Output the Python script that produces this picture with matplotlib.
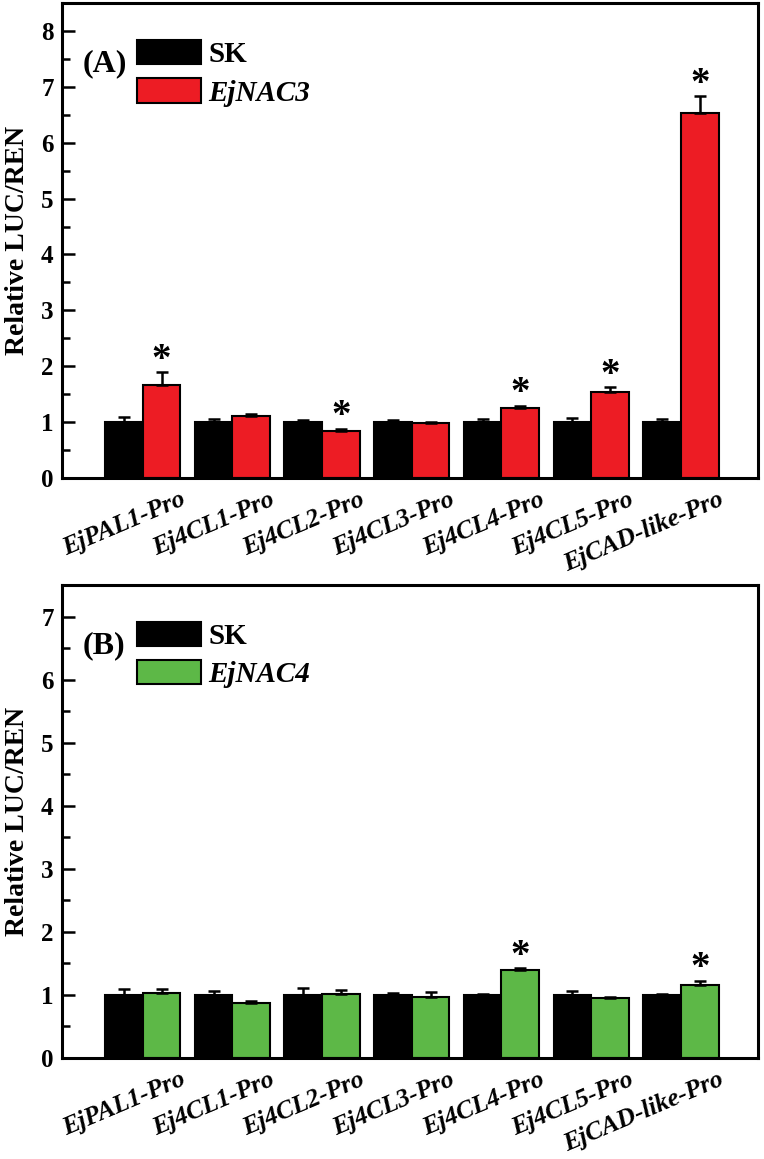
import matplotlib
matplotlib.use("Agg")
import matplotlib.pyplot as plt
import matplotlib.transforms as mtransforms
from matplotlib.patches import Patch
import numpy as np

plt.rcParams['font.family'] = ['Liberation Serif', 'DejaVu Serif']
plt.rcParams['font.weight'] = 'bold'

categories = ["EjPAL1-Pro", "Ej4CL1-Pro", "Ej4CL2-Pro", "Ej4CL3-Pro",
              "Ej4CL4-Pro", "Ej4CL5-Pro", "EjCAD-like-Pro"]

# Panel A
sk_a = [1.0, 1.0, 1.0, 1.0, 1.0, 1.0, 1.0]
sk_a_err = [0.09, 0.06, 0.03, 0.03, 0.05, 0.08, 0.05]
nac3 = [1.66, 1.11, 0.84, 0.98, 1.25, 1.54, 6.54]
nac3_err = [0.23, 0.03, 0.04, 0.02, 0.04, 0.08, 0.29]
sig_a = [True, False, True, False, True, True, True]

# Panel B
sk_b = [1.0, 1.0, 1.0, 1.0, 1.0, 1.0, 1.0]
sk_b_err = [0.09, 0.06, 0.11, 0.03, 0.02, 0.06, 0.02]
nac4 = [1.03, 0.875, 1.015, 0.96, 1.39, 0.95, 1.16]
nac4_err = [0.07, 0.035, 0.07, 0.085, 0.03, 0.02, 0.06]
sig_b = [False, False, False, False, True, False, True]

yticks_a = [0, 1, 2, 3, 4, 5, 6, 7, 8]
yticks_b = [0, 1, 2, 3, 4, 5, 6, 7]

RED = '#ED1C24'
GREEN = '#5DB847'

fig = plt.figure(figsize=(7.64, 11.59), dpi=100)
L, R = 62 / 764, 758 / 764
axA = fig.add_axes([L, 1 - 478 / 1159, R - L, (478 - 3) / 1159])
axB = fig.add_axes([L, 1 - 1058 / 1159, R - L, (1058 - 585) / 1159])

W = 0.42

def panel(ax, sk, sk_err, tr, tr_err, sig, color, trname, tag, ymax, yticks):
    x = np.arange(len(categories))
    ax.bar(x - W / 2, sk, W, color='black', edgecolor='black', linewidth=1.5,
           yerr=[np.zeros(len(sk)), sk_err], capsize=4,
           error_kw=dict(ecolor='black', elinewidth=1.8, capthick=1.8), zorder=2, label='SK')
    ax.bar(x + W / 2, tr, W, color=color, edgecolor='black', linewidth=1.5,
           yerr=[np.zeros(len(tr)), tr_err], capsize=4,
           error_kw=dict(ecolor='black', elinewidth=1.8, capthick=1.8), zorder=2, label=trname)
    for i, s in enumerate(sig):
        if s:
            ax.annotate('*', (x[i] + W / 2, tr[i] + tr_err[i]), xytext=(0, 2),
                        textcoords='offset points', ha='center', va='baseline',
                        fontsize=28, fontweight='bold')
    ax.set_xlim(-0.90, 6.86)
    ax.set_ylim(0, ymax)
    ax.set_yticks(yticks)
    ax.set_yticklabels([str(t) for t in yticks], fontsize=18, fontweight='bold')
    ax.set_yticks(np.arange(0.5, ymax, 1.0), minor=True)
    ax.tick_params(axis='y', which='major', direction='in', length=9, width=1.8, pad=6)
    ax.tick_params(axis='y', which='minor', direction='in', length=6, width=1.8)
    ax.set_xticks(x)
    ax.set_xticklabels(categories, rotation=23, ha='right', va='top',
                       rotation_mode='anchor', fontsize=18.5, fontweight='bold', style='italic')
    ax.tick_params(axis='x', length=0, pad=7)
    off = mtransforms.ScaledTranslation(37 / 100, 0, fig.dpi_scale_trans)
    for lab in ax.get_xticklabels():
        lab.set_transform(lab.get_transform() + off)
    for sp in ax.spines.values():
        sp.set_linewidth(2.2)
    ax.set_ylabel('Relative LUC/REN', fontsize=20, fontweight='bold', labelpad=8)
    h = [Patch(facecolor='black', edgecolor='black', linewidth=1.5),
         Patch(facecolor=color, edgecolor='black', linewidth=1.5)]
    leg = ax.legend(h, ['SK', trname], loc='upper left', bbox_to_anchor=(0.108, 0.922),
                    frameon=False, borderpad=0, borderaxespad=0, handlelength=2.2,
                    handleheight=0.9, handletextpad=0.25, labelspacing=0.35,
                    prop=dict(family='Liberation Serif', weight='bold', size=21))
    leg.get_texts()[1].set_style('italic')
    ax.text(0.03, 0.872, tag, transform=ax.transAxes, fontsize=23, fontweight='bold',
            ha='left', va='center')

panel(axA, sk_a, sk_a_err, nac3, nac3_err, sig_a, RED, 'EjNAC3', '(A)', 8.5, yticks_a)
panel(axB, sk_b, sk_b_err, nac4, nac4_err, sig_b, GREEN, 'EjNAC4', '(B)', 7.5, yticks_b)

fig.savefig('out.png', dpi=100)
